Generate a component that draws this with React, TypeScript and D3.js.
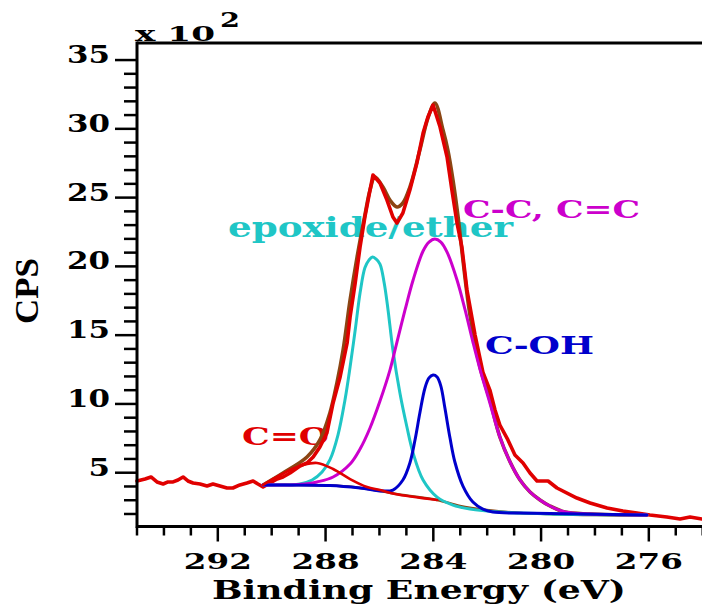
import React from "react";
import * as d3 from "d3";

// ---- data (binding energy in eV, intensity in CPS x 10^2) ----
const rawBE = [295.0, 294.7, 294.48, 294.26, 294.03, 293.85, 293.66, 293.48, 293.29, 293.11, 292.92, 292.66, 292.4, 292.18, 291.92, 291.66, 291.44, 291.18, 290.92, 290.69, 290.51, 290.32, 290.06, 289.8, 289.58, 289.32, 288.95, 288.69, 288.46, 288.21, 287.95, 287.72, 287.46, 287.2, 287.09, 286.9, 286.72, 286.54, 286.35, 286.24, 285.98, 285.72, 285.5, 285.35, 285.13, 284.87, 284.61, 284.38, 284.2, 284.01, 283.75, 283.49, 283.31, 283.12, 282.94, 282.75, 282.45, 282.16, 281.9, 281.71, 281.53, 281.23, 280.97, 280.67, 280.41, 280.15, 279.74, 279.41, 278.67, 278.18, 277.55, 276.96, 276.44, 275.96, 275.33, 274.84, 274.47, 274.03];
const rawCPS = [4.4, 4.54, 4.69, 4.33, 4.18, 4.33, 4.33, 4.47, 4.69, 4.4, 4.25, 4.18, 4.03, 4.18, 4.03, 3.89, 3.89, 4.11, 4.25, 4.4, 4.18, 3.96, 4.25, 4.54, 4.69, 4.98, 5.49, 5.71, 6.14, 6.87, 7.89, 10.07, 11.96, 14.43, 16.32, 18.79, 21.41, 23.59, 25.55, 26.64, 26.06, 24.82, 23.59, 23.15, 23.88, 25.55, 27.51, 29.69, 30.86, 31.73, 30.13, 27.95, 25.55, 23.15, 21.41, 18.28, 15.01, 12.32, 11.01, 9.56, 8.47, 7.38, 6.29, 5.71, 4.98, 4.4, 4.4, 3.89, 3.16, 2.8, 2.44, 2.22, 2.07, 1.93, 1.78, 1.64, 1.78, 1.64];

const envBE = [290.32, 289.58, 288.69, 288.21, 287.84, 287.58, 287.35, 287.09, 286.83, 286.54, 286.35, 286.17, 285.87, 285.61, 285.35, 285.13, 284.87, 284.5, 284.2, 283.94, 283.64, 283.46, 283.27, 283.08, 282.9, 282.64, 282.27, 281.9, 281.53, 281.15, 280.78, 280.41, 280.04, 279.67, 279.11, 278.18, 277.07, 276.07];
const envCPS = [4.11, 4.98, 6.14, 7.38, 9.34, 11.52, 13.92, 17.55, 20.68, 23.73, 25.55, 26.5, 25.77, 24.82, 24.32, 24.61, 25.77, 28.46, 30.78, 31.87, 29.91, 28.46, 26.28, 23.59, 20.46, 16.47, 12.69, 10.29, 7.6, 5.78, 4.47, 3.6, 3.02, 2.58, 2.14, 2.0, 1.93, 1.93];

const bgBE = [290.32, 288.95, 287.84, 286.98, 285.98, 285.13, 283.86, 283.01, 282.01, 280.78, 279.67, 278.44, 276.07];
const bgCPS = [4.11, 4.11, 4.07, 3.96, 3.67, 3.38, 3.02, 2.58, 2.29, 2.07, 2.0, 1.93, 1.93];

const epoxBE = [290.32, 289.32, 288.95, 288.5, 288.13, 287.84, 287.54, 287.28, 287.09, 286.9, 286.72, 286.54, 286.39, 286.26, 286.13, 285.98, 285.83, 285.69, 285.5, 285.24, 284.98, 284.75, 284.38, 283.86, 283.27, 282.64, 281.53, 279.67, 276.07];
const epoxCPS = [4.11, 4.11, 4.18, 4.47, 5.05, 5.93, 7.74, 10.29, 12.69, 15.37, 18.06, 19.9, 20.46, 20.68, 20.54, 20.17, 18.86, 16.98, 13.92, 10.79, 8.32, 6.43, 4.47, 3.23, 2.65, 2.36, 2.14, 2.0, 1.93];

const ccBE = [290.32, 289.32, 288.76, 288.32, 287.72, 287.09, 286.72, 286.35, 285.98, 285.61, 285.35, 285.05, 284.75, 284.38, 284.16, 283.94, 283.72, 283.49, 283.12, 282.82, 282.53, 282.27, 281.9, 281.53, 281.15, 280.78, 280.41, 280.04, 279.67, 279.11, 278.18, 276.07];
const ccCPS = [4.11, 4.11, 4.18, 4.33, 4.69, 5.63, 6.72, 8.25, 10.21, 12.46, 14.5, 16.83, 19.01, 21.12, 21.77, 21.99, 21.77, 21.04, 19.01, 16.83, 14.5, 12.54, 10.07, 7.6, 5.78, 4.47, 3.6, 3.02, 2.58, 2.14, 2.0, 1.93];

const cohBE = [290.32, 287.84, 286.72, 285.87, 285.5, 285.13, 284.87, 284.68, 284.5, 284.31, 284.16, 284.01, 283.86, 283.72, 283.57, 283.38, 283.2, 282.9, 282.53, 282.16, 281.79, 280.78, 276.07];
const cohCPS = [4.11, 4.07, 3.89, 3.67, 3.74, 4.47, 5.71, 7.38, 9.34, 11.16, 11.89, 12.1, 11.96, 11.3, 9.7, 7.52, 5.78, 4.03, 2.87, 2.36, 2.14, 2.07, 1.93];

const coBE = [290.32, 289.88, 289.32, 288.84, 288.32, 287.72, 287.09, 286.46, 285.98, 285.42, 283.86];
const coCPS = [4.11, 4.62, 5.2, 5.56, 5.71, 5.27, 4.54, 3.96, 3.74, 3.45, 3.02];

const xMajorTicks = [292, 288, 284, 280, 276];
const yMajorTicks = [5, 10, 15, 20, 25, 30, 35];

const RED = "#e00000";
const BROWN = "#8b4513";
const CYAN = "#1fc6c6";
const MAGENTA = "#cc00cc";
const BLUE = "#0000cc";

const SERIF = "'DejaVu Serif', serif";

export default function App() {
  const W = 702;
  const H = 606;
  const left = 137;
  const right = 702.7;
  const top = 43;
  const bottom = 526.5;

  const x = d3.scaleLinear().domain([295, 274]).range([left, right]);
  const y = d3.scaleLinear().domain([1.09, 36.24]).range([bottom, top]);

  const mk = (be: number[], v: number[], curve: any) =>
    d3
      .line<number>()
      .x((_, i) => x(be[i]))
      .y((d) => y(d))
      .curve(curve)(v) || "";

  const smooth = d3.curveCatmullRom.alpha(0.5);

  const xMinor = d3.range(274, 296).filter((t) => !xMajorTicks.includes(t));
  const yMinor = d3.range(2, 36).filter((t) => !yMajorTicks.includes(t));

  return (
    <svg
      width={W}
      height={H}
      style={{ position: "absolute", left: 0, top: 0, background: "#fff" }}
    >
      <rect x={0} y={0} width={W} height={H} fill="#fff" />

      {/* annotations (under curves) */}
      <text x={228} y={237} fontFamily={SERIF} fontWeight="bold" fontSize={27} fill={CYAN} textLength={285} lengthAdjust="spacingAndGlyphs">
        epoxide/ether
      </text>
      <text x={463} y={218} fontFamily={SERIF} fontWeight="bold" fontSize={24} fill={MAGENTA} textLength={177} lengthAdjust="spacingAndGlyphs">
        C-C, C=C
      </text>
      <text x={485} y={354} fontFamily={SERIF} fontWeight="bold" fontSize={24} fill={BLUE} textLength={109} lengthAdjust="spacingAndGlyphs">
        C-OH
      </text>
      <text x={242} y={445} fontFamily={SERIF} fontWeight="bold" fontSize={24} fill={RED} textLength={87} lengthAdjust="spacingAndGlyphs">
        C=O
      </text>

      {/* curves */}
      <g fill="none" strokeLinejoin="round" strokeLinecap="round">
        <path d={mk(bgBE, bgCPS, smooth)} stroke={BROWN} strokeWidth={2.6} />
        <path d={mk(envBE, envCPS, smooth)} stroke={BROWN} strokeWidth={3.6} />
        <path d={mk(rawBE, rawCPS, d3.curveLinear)} stroke={RED} strokeWidth={3.6} />
        <path d={mk(epoxBE, epoxCPS, smooth)} stroke={CYAN} strokeWidth={3} />
        <path d={mk(ccBE, ccCPS, smooth)} stroke={MAGENTA} strokeWidth={3} />
        <path d={mk(cohBE, cohCPS, smooth)} stroke={BLUE} strokeWidth={3} />
        <path d={mk(coBE, coCPS, smooth)} stroke={RED} strokeWidth={2.6} />
      </g>

      {/* frame / axes */}
      <g stroke="#000" strokeWidth={3} fill="none">
        <line x1={left} y1={top} x2={W} y2={top} />
        <line x1={left} y1={top - 1.5} x2={left} y2={bottom + 1.5} />
        <line x1={left} y1={bottom} x2={W} y2={bottom} />
      </g>

      {/* y ticks */}
      <g stroke="#000" strokeWidth={2.5}>
        {yMinor.map((t) => (
          <line key={"ym" + t} x1={left - 13} x2={left} y1={y(t)} y2={y(t)} />
        ))}
        {yMajorTicks.map((t) => (
          <line key={"yM" + t} x1={left - 22} x2={left} y1={y(t)} y2={y(t)} />
        ))}
      </g>
      {yMajorTicks.map((t) => {
        const s = String(t);
        return (
          <text
            key={"yl" + t}
            x={110}
            y={y(t) + 3}
            textAnchor="end"
            fontFamily={SERIF}
            fontWeight="bold"
            fontSize={24}
            textLength={s.length * 21.5}
            lengthAdjust="spacingAndGlyphs"
          >
            {s}
          </text>
        );
      })}

      {/* x ticks */}
      <g stroke="#000" strokeWidth={2.5}>
        {xMinor.map((t) => (
          <line key={"xm" + t} x1={x(t)} x2={x(t)} y1={bottom} y2={bottom + 9} />
        ))}
        {xMajorTicks.map((t) => (
          <line key={"xM" + t} x1={x(t)} x2={x(t)} y1={bottom} y2={bottom + 15} />
        ))}
      </g>
      {xMajorTicks.map((t) => (
        <text
          key={"xl" + t}
          x={x(t)}
          y={569}
          textAnchor="middle"
          fontFamily={SERIF}
          fontWeight="bold"
          fontSize={22}
          textLength={68}
          lengthAdjust="spacingAndGlyphs"
        >
          {t}
        </text>
      ))}

      {/* multiplier */}
      <text x={135} y={41} fontFamily={SERIF} fontWeight="bold" fontSize={20} textLength={80} lengthAdjust="spacingAndGlyphs">
        x 10
      </text>
      <text x={220} y={27} fontFamily={SERIF} fontWeight="bold" fontSize={20} textLength={20} lengthAdjust="spacingAndGlyphs">
        2
      </text>

      {/* axis titles */}
      <text
        x={419}
        y={599}
        textAnchor="middle"
        fontFamily={SERIF}
        fontWeight="bold"
        fontSize={26}
        textLength={414}
        lengthAdjust="spacingAndGlyphs"
      >
        Binding Energy (eV)
      </text>
      <text
        transform="translate(38,291) rotate(-90)"
        textAnchor="middle"
        fontFamily="'Liberation Serif', serif"
        fontWeight="bold"
        fontSize={34}
        textLength={66}
        lengthAdjust="spacingAndGlyphs"
      >
        CPS
      </text>
    </svg>
  );
}
